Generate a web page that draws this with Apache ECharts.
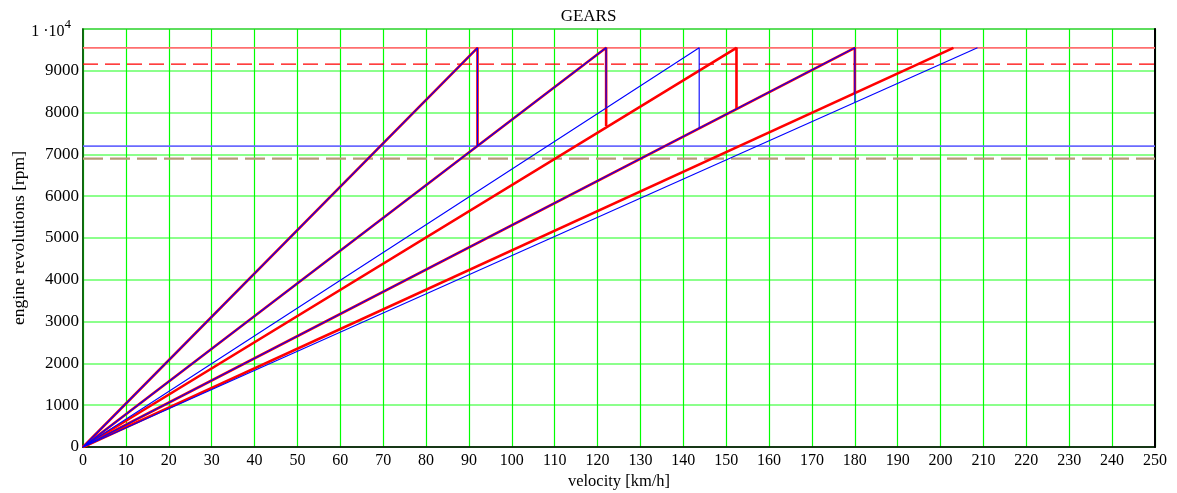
<!DOCTYPE html>
<html>
<head>
<meta charset="utf-8">
<script src="https://cdn.jsdelivr.net/npm/echarts@6/dist/echarts.min.js"></script>
<style>
  html, body { margin: 0; padding: 0; background: #fff; }
  #chart { width: 1177px; height: 493px; }
</style>
</head>
<body>
<div id="chart"></div>
<script>
// GEARS chart - engine rpm vs velocity, two gearbox setups

// top speed of every gear at the rev limit [km/h]
const gearTopRed = [92, 122, 152.4, 180, 203];
const gearTopBlue = [92, 122, 143.7, 180, 208.6];
// rpm after shifting up at the top of each gear
const dropRed = [7200, 7680, 8090, 8470];
const dropBlue = [7200, 8130, 7630, 8250];

const revLimit = 9550;
const redShift = 9160;
const blueLine = 7200;
const brownShift = 6900;
const velocityMax = 250;

var dom = document.getElementById("chart");
var myChart = echarts.init(dom);

const gearSeries = function (tops, drops, color, width, tag) {
  return tops.map(function (v, i) {
    const pts = [[0, 0], [v, revLimit]];
    if (i < drops.length) pts.push([v, drops[i]]);
    return {
      name: tag + (i + 1),
      type: "line",
      data: pts,
      symbol: "none",
      silent: true,
      z: 5,
      lineStyle: { color: color, width: width },
    };
  });
};

const hLine = function (y, color, width, type) {
  return {
    type: "line",
    data: [[0, y], [velocityMax, y]],
    symbol: "none",
    silent: true,
    z: 3,
    lineStyle: { color: color, width: width, type: type },
  };
};

const serif = "Liberation Serif";

var option;
option = {
  animation: false,
  backgroundColor: "#fff",
  textStyle: { fontFamily: serif },
  title: {
    text: "GEARS",
    left: "center",
    top: 3,
    textStyle: { fontFamily: serif, fontWeight: "normal", fontSize: 17, color: "#000" },
  },
  grid: {
    left: 83,
    right: 22,
    top: 29,
    bottom: 46,
    outerBoundsMode: "none",
    containLabel: false,
    show: true,
    borderColor: "#0b4f0b",
    borderWidth: 1.5,
  },
  xAxis: {
    type: "value",
    min: 0,
    max: velocityMax,
    interval: 10,
    name: "velocity [km/h]",
    nameLocation: "middle",
    nameGap: 26,
    nameMoveOverlap: false,
    nameTextStyle: { fontFamily: serif, fontSize: 16.5, color: "#000" },
    axisLine: { lineStyle: { color: "#000", width: 1.5 } },
    axisTick: { show: false },
    axisLabel: { fontFamily: serif, fontSize: 16, color: "#000", margin: 6 },
    splitLine: { lineStyle: { color: "#00ff00", width: 1.2 } },
  },
  yAxis: [
    {
      type: "value",
      min: 0,
      max: 10000,
      interval: 1000,
      name: "engine revolutions [rpm]",
      nameLocation: "middle",
      nameGap: 55,
      nameMoveOverlap: false,
      nameTextStyle: { fontFamily: serif, fontSize: 17.5, color: "#000" },
      axisLine: { show: true, lineStyle: { color: "#0b4f0b", width: 1.5 } },
      axisTick: { show: false },
      axisLabel: {
        fontFamily: serif,
        fontSize: 17,
        color: "#000",
        margin: 4,
        formatter: function (v) {
          return v === 10000 ? "{a|1 ·10}{s|4}" : String(v);
        },
        rich: {
          a: { fontFamily: serif, fontSize: 16, color: "#000", padding: [6, 0, 0, 0] },
          s: { fontFamily: serif, fontSize: 13, color: "#000", verticalAlign: "top", padding: [0, 8, 8, 0] },
        },
      },
      splitLine: { lineStyle: { color: "#66ff66", width: 1.5 } },
    },
    {
      type: "value",
      position: "right",
      min: 0,
      max: 10000,
      interval: 1000,
      axisLine: { show: true, lineStyle: { color: "#000", width: 2 } },
      axisTick: { show: false },
      axisLabel: { show: false },
      splitLine: { show: false },
    },
  ],
  series: [
    hLine(revLimit, "#ff6f6f", 1.8, "solid"),
    hLine(redShift, "#ff0000", 1.4, [15, 7]),
    hLine(blueLine, "#6a6aff", 1.8, "solid"),
    hLine(brownShift, "#b89a78", 2.4, [20, 7]),
  ]
    .concat(gearSeries(gearTopRed, dropRed, "#ff0000", 2.6, "red"))
    .concat(gearSeries(gearTopBlue, dropBlue, "#0000ff", 1.1, "blue")),
};

if (option && typeof option === "object") {
  myChart.setOption(option);
}
</script>
</body>
</html>
